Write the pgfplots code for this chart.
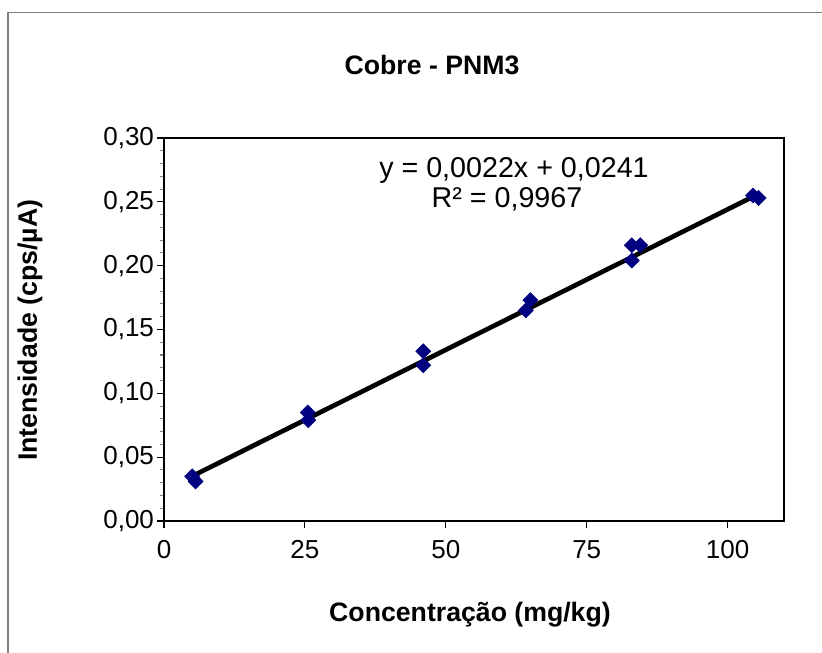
\documentclass[border=0pt]{standalone}
\usepackage{pgfplots}
\pgfplotsset{compat=1.18}
\usepackage{fontspec}
\setmainfont{Liberation Sans}
\definecolor{navy}{RGB}{0,0,128}
\begin{document}
\begin{tikzpicture}
\begin{axis}[
  name=ax,
  scale only axis,
  width=465pt, height=287.25pt,
  xmin=0, xmax=110, ymin=0, ymax=0.30,
  xtick={0,25,50,75,100},
  ytick={0,0.05,0.1,0.15,0.2,0.25,0.3},
  minor y tick num=4,
  tick align=outside,
  xtick pos=bottom, ytick pos=left,
  major tick length=5pt, minor tick length=3pt,
  axis line style={line width=1.5pt},
  major tick style={line width=0.8pt, black},
  minor tick style={line width=0.8pt, gray},
  /pgf/number format/assume math mode=true,
  yticklabel style={xshift=1pt, /pgf/number format/.cd, fixed, fixed zerofill, precision=2, use comma},
  xticklabel style={yshift=-6pt},
  tick label style={font=\fontsize{19.5}{22}\selectfont},
  clip=false,
]
\addplot[only marks, mark=square*, mark size=4pt, color=navy,
  mark options={rotate=45, fill=navy, draw=navy}] coordinates {
  (5.0,0.035) (5.6,0.031)
  (25.5,0.085) (25.6,0.079)
  (46.0,0.133) (46.0,0.122)
  (64.2,0.165) (65.0,0.173)
  (83.0,0.216) (84.5,0.216) (83.0,0.204)
  (104.5,0.255) (105.5,0.253)
};
\addplot[black, line width=3.5pt] coordinates {(4.8,0.0347) (105.5,0.2562)};
\end{axis}
\node[font=\fontsize{20}{24}\selectfont\bfseries] at ([shift={(201pt,342pt)}]ax.south west) {Cobre - PNM3};
\node[font=\fontsize{20}{24}\selectfont\bfseries, rotate=90] at ([shift={(-100.5pt,143pt)}]ax.south west) {Intensidade (cps/µA)};
\node[font=\fontsize{20}{24}\selectfont\bfseries] at ([shift={(229.5pt,-70.5pt)}]ax.south west) {Concentração (mg/kg)};
\node[font=\fontsize{21.5}{24}\selectfont] at ([shift={(262.5pt,263pt)}]ax.south west) {y = 0,0022x + 0,0241};
\node[font=\fontsize{21.5}{24}\selectfont] at ([shift={(257.25pt,241.5pt)}]ax.south west) {R² = 0,9967};
\draw[gray, line width=1pt] ([shift={(-117pt,-200pt)}]ax.south west) -- ([shift={(-117pt,381.5pt)}]ax.south west) -- ([shift={(700pt,381.5pt)}]ax.south west);
\pgfresetboundingbox
\path ([shift={(-123pt,-99pt)}]ax.south west) rectangle ([shift={(493.5pt,390.75pt)}]ax.south west);
\end{tikzpicture}
\end{document}
